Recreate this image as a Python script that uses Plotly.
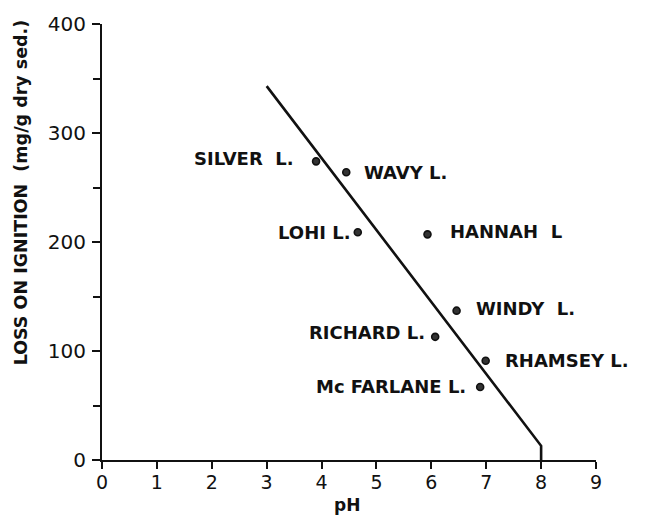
import plotly.graph_objects as go

# Lake sediment loss on ignition versus lake-water pH
lakes = ["SILVER\u00a0\u00a0L.", "WAVY L.", "LOHI L.", "HANNAH\u00a0\u00a0L",
         "WINDY\u00a0\u00a0L.", "RICHARD L.", "RHAMSEY L.", "Mc\u00a0FARLANE L."]
ph = [3.9, 4.45, 4.66, 5.93, 6.46, 6.07, 6.99, 6.89]
loi = [274, 264, 209, 207, 137, 113, 91, 67]

# Which side of the dot each lake name sits on, plus pixel nudges
label_side = ["left", "right", "left", "right", "right", "left", "right", "left"]
label_gap = [20, 16, 6, 21, 17, 8, 17, 12]
label_dy = [3, 0, 0, 3, 2, 4, 0, 0]

# Regression line, dropping vertically to the axis at pH 8
fit_ph = [3.0, 8.0, 8.0]
fit_loi = [343, 13, 0]

x_ticks = [0, 1, 2, 3, 4, 5, 6, 7, 8, 9]
y_ticks = [0, 100, 200, 300, 400]

FONT = "DejaVu Sans"
INK = "#111111"

fig = go.Figure()

fig.add_trace(go.Scatter(
    x=fit_ph, y=fit_loi, mode="lines",
    line=dict(color=INK, width=2.6),
    hoverinfo="skip", showlegend=False,
))

fig.add_trace(go.Scatter(
    x=ph, y=loi, mode="markers",
    marker=dict(symbol="circle", size=7, color="#333333",
                line=dict(color=INK, width=1.6)),
    text=lakes, showlegend=False, cliponaxis=False,
))

annotations = []
for name, xv, yv, side, gap, dy in zip(lakes, ph, loi, label_side, label_gap, label_dy):
    annotations.append(dict(
        x=xv, y=yv, xref="x", yref="y", text=name, showarrow=False,
        xanchor="right" if side == "left" else "left", yanchor="middle",
        xshift=-gap if side == "left" else gap, yshift=dy,
        font=dict(family=FONT, size=18, color=INK, weight="bold"),
    ))

# Axis titles
annotations.append(dict(
    x=0.496, y=-0.104, xref="paper", yref="paper", text="pH",
    showarrow=False, xanchor="center", yanchor="middle",
    font=dict(family=FONT, size=17, color=INK, weight="bold"),
))
annotations.append(dict(
    x=-0.165, y=0.615, xref="paper", yref="paper",
    text="LOSS ON IGNITION\u00a0\u00a0(mg/g dry sed.)",
    showarrow=False, xanchor="center", yanchor="middle", textangle=-90,
    font=dict(family=FONT, size=17.5, color=INK, weight="bold"),
))

fig.update_layout(
    width=647, height=518,
    margin=dict(l=102, r=51, t=21, b=58),
    paper_bgcolor="white", plot_bgcolor="white",
    annotations=annotations,
    xaxis=dict(
        range=[0, 9], tickvals=x_ticks, ticktext=[str(v) for v in x_ticks],
        showgrid=False, zeroline=False, showline=True, linecolor=INK, linewidth=2,
        ticks="outside", ticklen=7, tickwidth=2, tickcolor=INK,
        tickfont=dict(family=FONT, size=19, color=INK),
        ticklabelstandoff=-3,
        fixedrange=True,
    ),
    yaxis=dict(
        range=[0, 400], tickvals=y_ticks, ticktext=[str(v) for v in y_ticks],
        showgrid=False, zeroline=False, showline=True, linecolor=INK, linewidth=2,
        ticks="outside", ticklen=8, tickwidth=2, tickcolor=INK,
        minor=dict(dtick=50, ticks="outside", ticklen=7, tickwidth=2, tickcolor=INK),
        tickfont=dict(family=FONT, size=20, color=INK),
        ticklabelstandoff=2,
        fixedrange=True,
    ),
)

fig.write_html("out.html")
